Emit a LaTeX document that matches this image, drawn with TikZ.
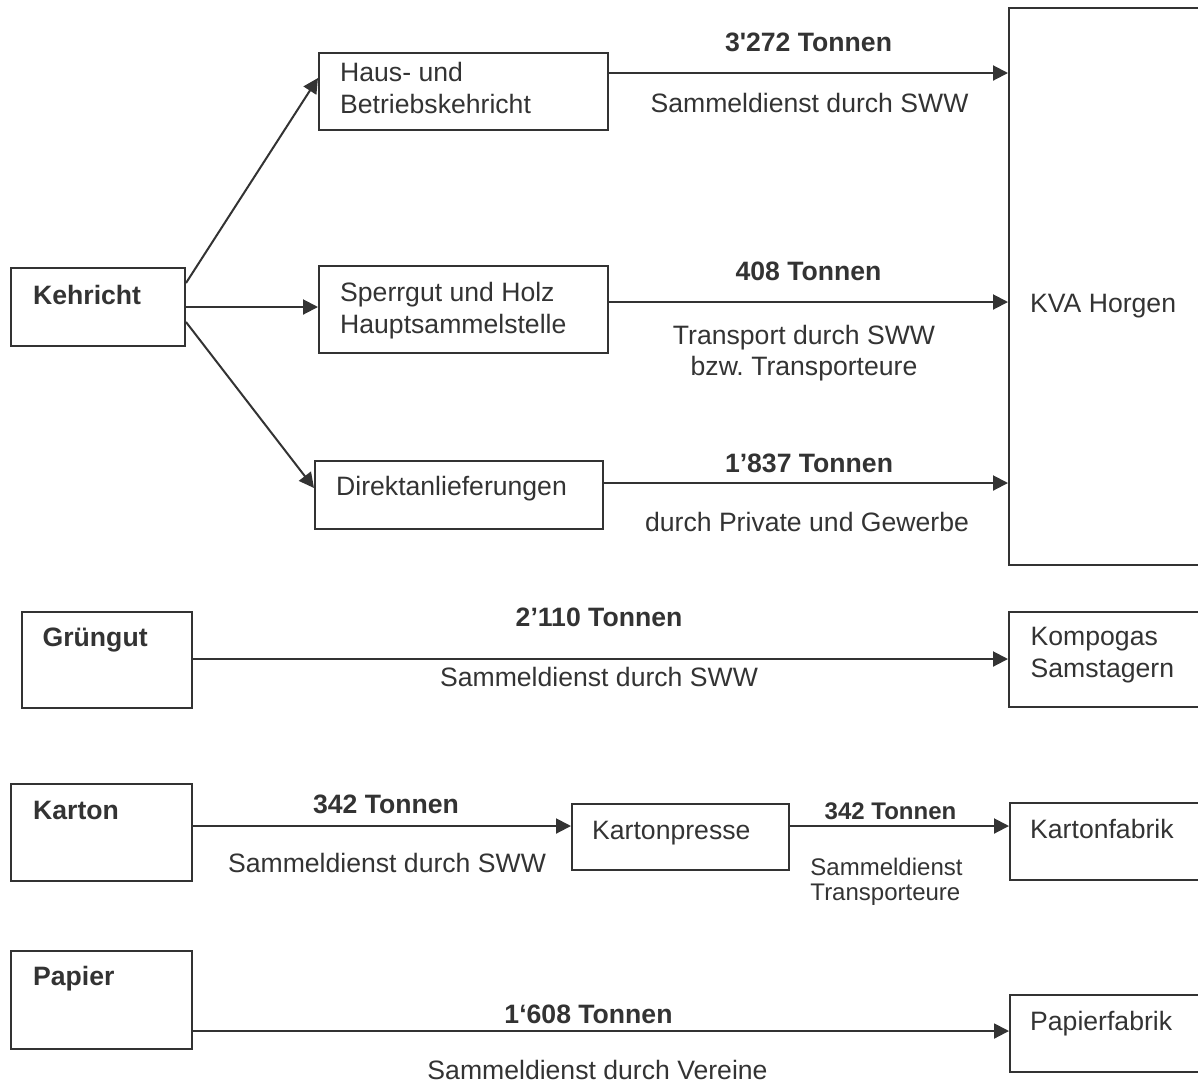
\documentclass[tikz,border=0pt]{standalone}
\usepackage{fontspec}
\setmainfont{Liberation Sans}
\usetikzlibrary{arrows.meta}
\definecolor{ink}{HTML}{333333}
\frenchspacing
\tikzset{
  box/.style={draw=ink, line width=2pt, inner sep=0pt, anchor=north west},
  txt/.style={text=ink, inner sep=0pt, font=\fontsize{26.6}{31.5}\selectfont},
  smalltxt/.style={text=ink, inner sep=0pt, font=\fontsize{24}{25}\selectfont},
  flow/.style={draw=ink, line width=2pt, -{Triangle[length=15pt,width=15pt]}}
}
\begin{document}
\begin{tikzpicture}[x=1pt, y=-1pt]
  \useasboundingbox (0,0) rectangle (1198,1088);
  \clip (0,0) rectangle (1198,1088);
  % boxes
  \node[box, minimum width=174pt, minimum height=78pt] (kehricht) at (10,267) {};
  \node[box, minimum width=289pt, minimum height=77pt] (haus) at (318,52) {};
  \node[box, minimum width=289pt, minimum height=87pt] (sperrgut) at (318,265) {};
  \node[box, minimum width=288pt, minimum height=68pt] (direkt) at (314,460) {};
  \node[box, minimum width=230pt, minimum height=557pt] (kva) at (1008,7) {};
  \node[box, minimum width=170pt, minimum height=96pt] (gruengut) at (21,611) {};
  \node[box, minimum width=230pt, minimum height=95pt] (kompogas) at (1008,611) {};
  \node[box, minimum width=181pt, minimum height=97pt] (karton) at (10,783) {};
  \node[box, minimum width=217pt, minimum height=66pt] (presse) at (571,803) {};
  \node[box, minimum width=230pt, minimum height=77pt] (kartonfabrik) at (1009,802) {};
  \node[box, minimum width=181pt, minimum height=98pt] (papier) at (10,950) {};
  \node[box, minimum width=230pt, minimum height=77pt] (papierfabrik) at (1009,994) {};
  % box texts
  \node[txt, anchor=base west] (kehrichttxt) at (33,304.5) {\textbf{Kehricht}};
  \node[txt, anchor=north west, align=left] (haustxt) at (340,62.5) {Haus- und\\Betriebskehricht};
  \node[txt, anchor=north west, align=left] (sperrguttxt) at (340,282.5) {Sperrgut und Holz\\Hauptsammelstelle};
  \node[txt, anchor=base west] (direkttxt) at (336,495) {Direktanlieferungen};
  \node[txt, anchor=base west] (kvatxt) at (1030,312.5) {KVA Horgen};
  \node[txt, anchor=base west] (gruenguttxt) at (42.5,646.5) {\textbf{Grüngut}};
  \node[txt, anchor=north west, align=left] (kompogastxt) at (1030.5,627) {Kompogas\\Samstagern};
  \node[txt, anchor=base west] (kartontxt) at (33,819.5) {\textbf{Karton}};
  \node[txt, anchor=base west] (pressetxt) at (592,839.5) {Kartonpresse};
  \node[txt, anchor=base west] (kartonfabriktxt) at (1030,838) {Kartonfabrik};
  \node[txt, anchor=base west] (papiertxt) at (33,985.5) {\textbf{Papier}};
  \node[txt, anchor=base west] (papierfabriktxt) at (1030,1030) {Papierfabrik};
  % Kehricht
  \draw[flow] (kehricht.east |- 0,283) -- (haus.west |- 0,78);
  \draw[flow] (kehricht.east |- 0,307) -- (sperrgut.west |- 0,307);
  \draw[flow] (kehricht.east |- 0,322) -- (direkt.west |- 0,488);
  \draw[flow] (haus.east |- 0,73) -- (kva.west |- 0,73)
    node[txt, midway, yshift=31pt] {\textbf{3\textquotesingle272 Tonnen}}
    node[txt, midway, yshift=-30pt, xshift=1pt] {Sammeldienst durch SWW};
  \draw[flow] (sperrgut.east |- 0,302) -- (kva.west |- 0,302)
    node[txt, midway, yshift=31pt] {\textbf{408 Tonnen}}
    node[txt, midway, yshift=-51pt, xshift=-4.5pt, align=center] {Transport durch SWW\\bzw. Transporteure};
  \draw[flow] (direkt.east |- 0,483) -- (kva.west |- 0,483)
    node[txt, midway, yshift=20pt, xshift=3pt] {\textbf{1’837 Tonnen}}
    node[txt, midway, yshift=-39pt, xshift=1pt] {durch Private und Gewerbe};
  % Gruengut
  \draw[flow] (gruengut.east |- 0,659) -- (kompogas.west |- 0,659)
    node[txt, midway, yshift=42pt, xshift=-1.5pt] {\textbf{2’110 Tonnen}}
    node[txt, midway, yshift=-18pt, xshift=-1.5pt] {Sammeldienst durch SWW};
  % Karton
  \draw[flow] (karton.east |- 0,826) -- (presse.west |- 0,826)
    node[txt, midway, yshift=22pt, xshift=4pt] {\textbf{342 Tonnen}}
    node[txt, midway, yshift=-37pt, xshift=5pt] {Sammeldienst durch SWW};
  \draw[flow] (presse.east |- 0,826) -- (kartonfabrik.west |- 0,826)
    node[smalltxt, midway, yshift=15pt, xshift=-9pt] {\textbf{342 Tonnen}}
    node[smalltxt, midway, yshift=-56pt, xshift=-13pt, align=left] {Sammeldienst\\Transporteure};
  % Papier
  \draw[flow] (papier.east |- 0,1031) -- (papierfabrik.west |- 0,1031)
    node[txt, midway, yshift=17pt, xshift=-12.5pt] {\textbf{1‘608 Tonnen}}
    node[txt, midway, yshift=-39pt, xshift=-3.5pt] {Sammeldienst durch Vereine};
\end{tikzpicture}
\end{document}
